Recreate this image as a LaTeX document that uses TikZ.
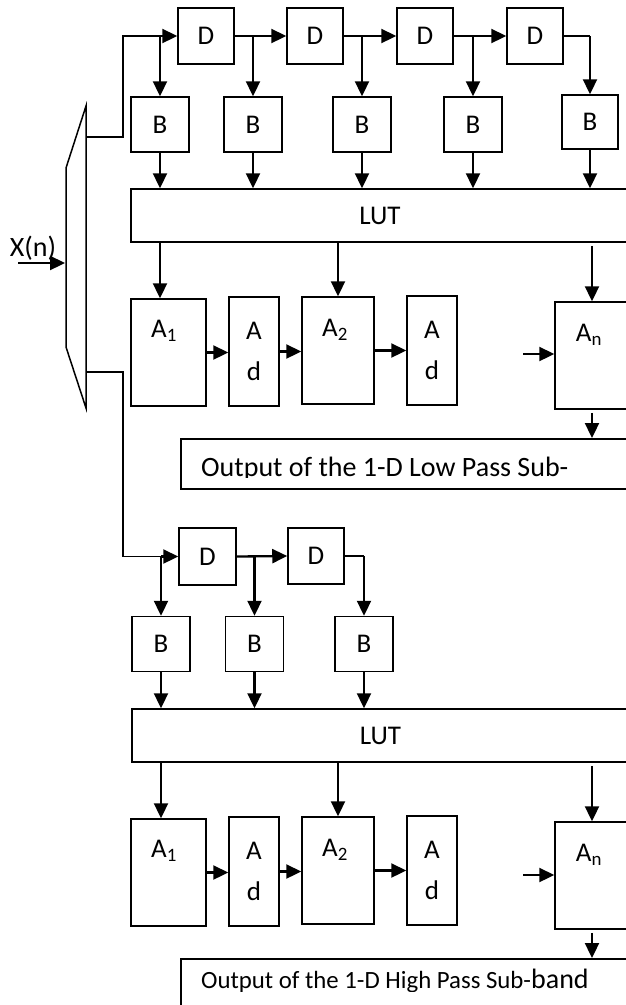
\documentclass[tikz,border=0pt]{standalone}
\usepackage{fontspec}
\setmainfont{Carlito}
\usetikzlibrary{arrows.meta}
\begin{document}
\begin{tikzpicture}[x=1pt,y=-1pt,
  wire/.style={line width=1.5pt},
  arr/.style={line width=2.3pt,-{Triangle[length=15pt,width=14pt]}},
  blk/.style={draw,line width=1.5pt,inner sep=0pt,font=\fontsize{27}{32}\selectfont},
  dbox/.style={blk,minimum width=56pt,minimum height=56pt},
  bbox/.style={blk,minimum width=58pt,minimum height=55pt},
  abox/.style={blk,minimum height=107pt},
  adbox/.style={blk,minimum width=50pt,minimum height=109pt,align=center,font=\fontsize{27}{41}\selectfont},
  txt/.style={inner sep=0pt,font=\fontsize{27}{32}\selectfont}
]
\useasboundingbox (0,0) rectangle (626,1005);
\clip (0,0) rectangle (626,1005);

% ---------- multiplexer ----------
\draw[wire] (86,106) -- (86,408) -- (66,347) -- (66,168) -- cycle;
\coordinate (mo1) at (86,137);
\coordinate (mo2) at (86,372);
\coordinate (bend) at (123,0);
\node[txt,font=\fontsize{28}{32}\selectfont] (xn) at (33,248) {X(n)};
\coordinate (xs) at (18,263);
\coordinate (xe) at (65,263);
\draw[arr] (xs) -- (xe);

% ---------- upper branch ----------
\node[dbox] (D1) at (206,36) {D};
\node[dbox] (D2) at (315,36) {D};
\node[dbox] (D3) at (425,36) {D};
\node[dbox] (D4) at (535,36) {D};
\node[bbox] (B1) at (160,124.5) {B};
\node[bbox] (B2) at (253,124.5) {B};
\node[bbox] (B3) at (362,124.5) {B};
\node[bbox] (B4) at (473,124.5) {B};
\node[blk,minimum width=56pt,minimum height=54pt] (B5) at (590,122) {B};
\node[blk,minimum width=498pt,minimum height=53pt] (LUT1) at (380,215.5) {LUT};
\node[abox,minimum width=75pt] (A1) at (168.5,352.5) {};
\node[adbox] (Ad1) at (254,351.5) {A\\d};
\node[abox,minimum width=72pt] (A2) at (338,350.5) {};
\node[adbox] (Ad2) at (432,350.5) {A\\d};
\node[abox,minimum width=74pt] (An) at (592,355.5) {};
\node[txt] (A1l) at (164,331) {A\textsubscript{1}};
\node[txt] (A2l) at (335,330) {A\textsubscript{2}};
\node[txt] (Anl) at (589,335) {A\textsubscript{n}};
\node[draw,line width=1.5pt,anchor=north west,minimum width=460pt,minimum height=50pt,inner sep=0pt] (out1) at (180,438) {};
\begin{scope}
  \clip (180,438) rectangle (626,477);
  \node[inner sep=0pt,anchor=base west,font=\fontsize{28}{32}\selectfont] (out1t) at (201,476) {Output of the 1-D Low Pass Sub-};
\end{scope}

\draw[wire] (mo1) -- (bend |- mo1) -- (bend |- D1.west) -- (B1.north |- D1.west);
\draw[arr] (B1.north |- D1.west) -- (D1.west);
\draw[arr] (B1.north |- D1.west) -- (B1.north);
\draw[arr] (D1.east) -- (D2.west);
\draw[arr] (D2.east) -- (D3.west);
\draw[arr] (D3.east) -- (D4.west);
\draw[arr] (B2.north |- D1.east) -- (B2.north);
\draw[arr] (B3.north |- D2.east) -- (B3.north);
\draw[arr] (B4.north |- D3.east) -- (B4.north);
\draw[wire] (D4.east) -- (B5.north |- D4.east);
\draw[arr] (B5.north |- D4.east) -- (B5.north);
\foreach \b in {B1,B2,B3,B4,B5} \draw[arr] (\b.south) -- (\b.south |- LUT1.north);
\draw[arr] (B1.south |- LUT1.south) -- (B1.south |- A1.north);
\draw[arr] (A2.north |- LUT1.south) -- (A2.north);
\draw[arr,shorten <=3pt] (An.north |- LUT1.south) -- (An.north);
\draw[arr] (A1.east) -- (A1.east -| Ad1.west);
\draw[arr] (Ad1.east) -- (Ad1.east -| A2.west);
\draw[arr] (A2.east) -- (A2.east -| Ad2.west);
\coordinate (ain1) at (523,354);
\draw[arr] (ain1) -- (ain1 -| An.west);
\draw[arr,shorten <=3pt] (An.south) -- (An.south |- out1.north);

% ---------- lower branch ----------
\node[blk,minimum width=57pt,minimum height=57pt] (E1) at (207.5,556.5) {D};
\node[dbox] (E2) at (316,556) {D};
\node[bbox] (C1) at (161,644) {B};
\node[bbox] (C2) at (254.5,644) {B};
\node[bbox] (C3) at (364,644) {B};
\node[blk,minimum width=497pt,minimum height=53pt] (LUT2) at (380.5,735.5) {LUT};
\node[abox,minimum width=75pt] (F1) at (168.5,872.5) {};
\node[adbox] (Fd1) at (254,871.5) {A\\d};
\node[abox,minimum width=72pt] (F2) at (338,870.5) {};
\node[adbox] (Fd2) at (432,870.5) {A\\d};
\node[abox,minimum width=74pt] (Fn) at (592,875.5) {};
\node[txt] (F1l) at (164,851) {A\textsubscript{1}};
\node[txt] (F2l) at (335,850) {A\textsubscript{2}};
\node[txt] (Fnl) at (589,855) {A\textsubscript{n}};
\node[draw,line width=1.5pt,anchor=north west,minimum width=460pt,minimum height=70pt,inner sep=0pt] (out2) at (180,958) {};
\begin{scope}
  \clip (180,958) rectangle (626,991);
  \node[inner sep=0pt,anchor=base west,font=\fontsize{24.8}{30}\selectfont] (out2t) at (201,988) {Output of the 1-D High Pass Sub-{\fontsize{28}{30}\selectfont band}};
\end{scope}

\draw[wire] (mo2) -- (bend |- mo2) -- (bend |- E1.west) -- (C1.north |- E1.west);
\draw[arr] (C1.north |- E1.west) -- (E1.west);
\draw[arr] (C1.north |- E1.west) -- (C1.north);
\draw[arr] (E1.east) -- (E2.west);
\draw[arr] (C2.north |- E1.east) -- (C2.north);
\draw[wire] (E2.east) -- (C3.north |- E2.east);
\draw[arr] (C3.north |- E2.east) -- (C3.north);
\foreach \b in {C1,C2,C3} \draw[arr] (\b.south) -- (\b.south |- LUT2.north);
\draw[arr] (C1.south |- LUT2.south) -- (C1.south |- F1.north);
\draw[arr] (F2.north |- LUT2.south) -- (F2.north);
\draw[arr,shorten <=3pt] (Fn.north |- LUT2.south) -- (Fn.north);
\draw[arr] (F1.east) -- (F1.east -| Fd1.west);
\draw[arr] (Fd1.east) -- (Fd1.east -| F2.west);
\draw[arr] (F2.east) -- (F2.east -| Fd2.west);
\coordinate (ain2) at (523,875);
\draw[arr] (ain2) -- (ain2 -| Fn.west);
\draw[arr,shorten <=3pt] (Fn.south) -- (Fn.south |- out2.north);
\end{tikzpicture}
\end{document}
